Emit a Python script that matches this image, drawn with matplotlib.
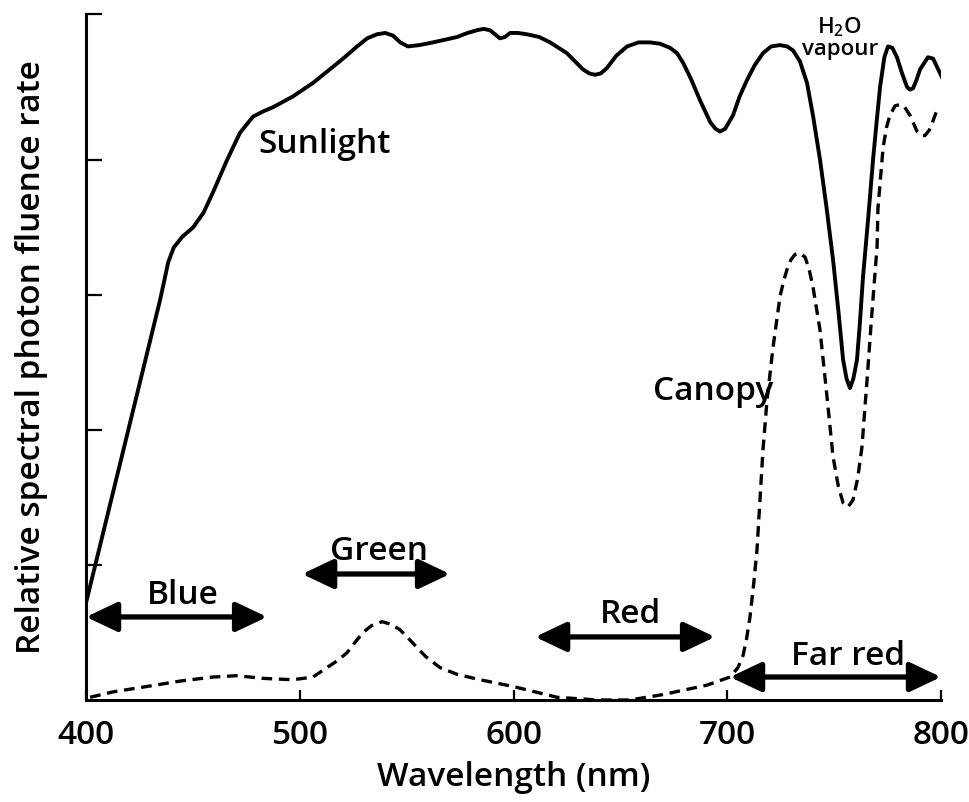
import matplotlib
matplotlib.use("Agg")
import matplotlib.pyplot as plt

plt.rcParams['font.family'] = ['Open Sans', 'DejaVu Sans']
plt.rcParams['font.weight'] = 'semibold'
plt.rcParams['axes.labelweight'] = 'semibold'
plt.rcParams['mathtext.default'] = 'regular'

# sunlight spectrum (solid)
sun_nm = [400, 417.3, 434.6, 436.8, 438.4, 441.0, 445.0, 450.1, 455.0, 459.4,
          466.0, 472.0, 478.1, 483.0, 487.5, 496.8, 506.2, 515.6, 521.0, 526.8,
          531.5, 536.1, 540.0, 543.6, 547.0, 550.6, 556.0, 562.3, 568.0, 573.6,
          578.5, 582.9, 586.0, 589.0, 593.7, 596.0, 598.4, 602.0, 606.3, 612.0,
          617.1, 625.0, 632.5, 635.5, 638.1, 640.8, 643.7, 648.0, 653.1, 658.5,
          663.9, 668.5, 673.2, 676.5, 679.3, 683.0, 687.3, 692.0, 694.5, 696.6,
          699.0, 702.7, 705.8, 709.2, 712.8, 716.7, 720.5, 724.7, 728.0, 730.8,
          734.0, 737.3, 740.2, 743.4, 746.5, 749.5, 752.0, 754.2, 755.8, 757.4,
          759.0, 760.7, 762.0, 763.5, 766.0, 768.2, 770.0, 771.5, 773.5, 775.2,
          777.2, 779.4, 781.8, 784.1, 785.5, 786.9, 788.5, 790.2, 793.9, 796.3,
          798.1, 800.5]
sun_y = [0.72, 1.84, 2.96, 3.12, 3.24, 3.35, 3.43, 3.50, 3.61, 3.76,
         4.00, 4.20, 4.32, 4.36, 4.39, 4.47, 4.57, 4.69, 4.76, 4.84,
         4.90, 4.93, 4.94, 4.92, 4.87, 4.84, 4.85, 4.87, 4.89, 4.91,
         4.94, 4.96, 4.97, 4.96, 4.90, 4.91, 4.94, 4.94, 4.93, 4.91,
         4.87, 4.79, 4.67, 4.64, 4.63, 4.64, 4.68, 4.77, 4.84, 4.87,
         4.87, 4.86, 4.83, 4.79, 4.72, 4.60, 4.44, 4.28, 4.23, 4.21,
         4.23, 4.33, 4.47, 4.59, 4.70, 4.79, 4.84, 4.85, 4.84, 4.81,
         4.73, 4.57, 4.32, 4.00, 3.64, 3.26, 2.88, 2.52, 2.38, 2.31,
         2.38, 2.52, 2.78, 3.13, 3.58, 4.00, 4.30, 4.54, 4.76, 4.84,
         4.83, 4.76, 4.64, 4.54, 4.52, 4.53, 4.59, 4.67, 4.76, 4.75,
         4.69, 4.61]

# under a canopy (dashed)
can_nm = [401.9, 412.6, 428.5, 444.0, 459.4, 470.6, 482.8, 496.8, 506.2, 512.7,
          517.5, 522.1, 526.0, 529.6, 533.5, 538.5, 542.8, 546.9, 550.0, 553.0,
          559.0, 565.6, 573.6, 584.3, 599.8, 620.4, 639.1, 654.5, 669.9, 690.5,
          701.3, 705.0, 707.4, 709.0, 710.6, 712.3, 713.9, 715.3, 716.7, 718.6,
          721.4, 724.7, 726.5, 728.0, 729.8, 731.7, 733.8, 736.4, 738.3, 740.1,
          743.4, 746.7, 749.5, 752.0, 754.2, 756.5, 758.8, 761.0, 763.0, 765.4,
          767.7, 770.1, 770.5, 772.9, 774.5, 776.1, 778.5, 780.8, 783.0, 785.5,
          788.8, 790.8, 792.5, 794.5, 796.3, 798.6]
can_y = [0.02, 0.06, 0.10, 0.14, 0.17, 0.18, 0.16, 0.15, 0.17, 0.24,
         0.29, 0.35, 0.43, 0.50, 0.55, 0.58, 0.56, 0.52, 0.47, 0.42,
         0.32, 0.24, 0.19, 0.15, 0.10, 0.02, 0.00, 0.00, 0.04, 0.11,
         0.17, 0.24, 0.33, 0.45, 0.61, 0.85, 1.11, 1.48, 1.85, 2.22,
         2.61, 2.99, 3.11, 3.19, 3.26, 3.30, 3.31, 3.28, 3.19, 3.06,
         2.74, 2.24, 1.80, 1.58, 1.46, 1.43, 1.48, 1.64, 1.87, 2.37,
         2.87, 3.36, 3.64, 4.09, 4.24, 4.33, 4.40, 4.41, 4.39, 4.33,
         4.21, 4.18, 4.18, 4.22, 4.29, 4.39]

# waveband arrows: name, start, end, height
bands = ['Blue', 'Green', 'Red', 'Far red']
band_start = [400, 501.1, 610.1, 701.3]
band_end = [484.7, 570.3, 694.3, 800]
band_y = [0.615, 0.933, 0.467, 0.17]
band_text_x = [428.5, 514.2, 640.5, 729.8]
band_text_y = [0.711, 1.037, 0.57, 0.26]

x_ticks = [400, 500, 600, 700, 800]
y_top = 5.08

fig = plt.figure(figsize=(9.69, 8.02), dpi=100)
ax = fig.add_axes([0.0888, 0.1272, 0.8823, 0.8553])

ax.plot(sun_nm, sun_y, color='black', lw=2.8, solid_joinstyle='round')
ax.plot(can_nm, can_y, color='black', lw=2.4, dashes=(3.2, 2.0))

for name, x0, x1, yy, tx, ty in zip(bands, band_start, band_end, band_y,
                                    band_text_x, band_text_y):
    ax.annotate('', xy=(x1, yy), xytext=(x0, yy),
                arrowprops=dict(arrowstyle='<|-|>,head_length=0.95,head_width=0.45',
                                color='black', lw=3.8, mutation_scale=20,
                                shrinkA=0, shrinkB=0))
    ax.text(tx, ty, name, fontsize=24, ha='left', va='baseline')

ax.text(480.5, 4.05, 'Sunlight', fontsize=24, ha='left', va='baseline')
ax.text(665.3, 2.22, 'Canopy', fontsize=24, ha='left', va='baseline')
ax.text(752.5, 4.94, 'H$_2$O', fontsize=16, ha='center', va='baseline')
ax.text(752.7, 4.78, 'vapour', fontsize=16, ha='center', va='baseline')

ax.set_xlim(400, 800)
ax.set_ylim(0, y_top)
ax.spines['top'].set_visible(False)
ax.spines['right'].set_visible(False)
ax.spines['left'].set_linewidth(2.2)
ax.spines['bottom'].set_linewidth(2.2)

ax.set_xticks(x_ticks)
ax.set_xticklabels([str(t) for t in x_ticks])
ax.set_yticks([1, 2, 3, 4, y_top])
ax.set_yticklabels([])
ax.tick_params(axis='x', direction='in', length=7, width=1.6, labelsize=24, pad=14)
ax.tick_params(axis='y', direction='in', length=11.5, width=1.6)

ax.set_xlabel('Wavelength (nm)', fontsize=24, fontweight='semibold', labelpad=6)
ax.set_ylabel('Relative spectral photon fluence rate', fontsize=24,
              fontweight='semibold')
ax.yaxis.set_label_coords(-0.045, 0.5)

fig.savefig('out.png', dpi=100)
